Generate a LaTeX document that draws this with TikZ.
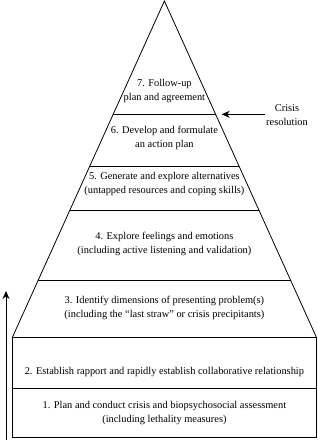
\documentclass[tikz,border=0pt]{standalone}
\usepackage{fontspec}
\setmainfont{Liberation Serif}
\usetikzlibrary{arrows.meta}
\begin{document}
\begin{tikzpicture}[x=1pt,y=-1pt, line width=0.8pt,
  lbl/.style={align=center, font=\fontsize{10.4}{14}\selectfont, inner sep=0pt},
  arr/.style={-{Stealth[length=8pt,width=7pt]}, line width=0.9pt}]
\useasboundingbox (0,0) rectangle (318,440);
% pyramid outline
\coordinate (apex) at (164.4,1);
\coordinate (bl) at (12.3,337.5);
\coordinate (br) at (316.5,337.5);
\draw (apex) -- (bl) -- (br) -- cycle;
% level dividers
\draw (113.2,114.3) -- (215.6,114.3);
\draw (89.8,166) -- (239.0,166);
\draw (69.6,210.7) -- (259.2,210.7);
\draw (38.0,280.7) -- (290.8,280.7);
% base block
\draw (12.3,337.5) rectangle (316.5,437.5);
\draw (12.3,388.5) -- (316.5,388.5);
% labels
\node[lbl] (n7) at (164.4,91) {7. Follow-up\\plan and agreement};
\node[lbl] (n6) at (164.4,137.5) {6. Develop and formulate\\an action plan};
\node[lbl] (n5) at (164.4,184.5) {5. Generate and explore alternatives\\(untapped resources and coping skills)};
\node[lbl] (n4) at (164.4,244) {4. Explore feelings and emotions\\(including active listening and validation)};
\node[lbl] (n3) at (164.4,308) {3. Identify dimensions of presenting problem(s)\\(including the ``last straw'' or crisis precipitants)};
\node[lbl] (n2) at (164.4,372) {2. Establish rapport and rapidly establish collaborative relationship};
\node[lbl] (n1) at (164.4,413) {1. Plan and conduct crisis and biopsychosocial assessment\\(including lethality measures)};
\node[lbl] (crisis) at (287,115) {Crisis\\resolution};
% arrows
\coordinate (crisistip) at (221.7,114.3);
\draw[arr] ([xshift=-1pt]crisis.west |- crisistip) -- (crisistip);
\coordinate (ub) at (6,439.5);
\coordinate (ut) at (6,291);
\draw[arr] (ub) -- (ut);
\end{tikzpicture}
\end{document}
